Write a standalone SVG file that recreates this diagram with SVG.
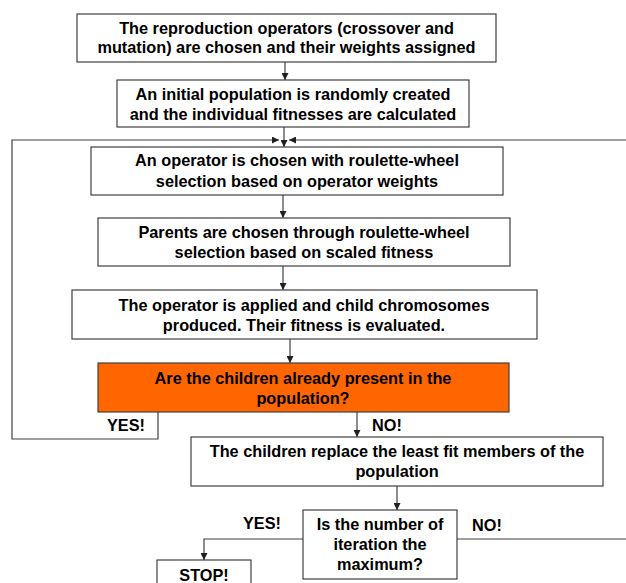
<svg xmlns="http://www.w3.org/2000/svg" width="626" height="583" viewBox="0 0 626 583">
<style>
.box{fill:#fff;stroke:#404040;stroke-width:1.2}
.dec{fill:#FF6600;stroke:#404040;stroke-width:1.2}
.t{font-family:"Liberation Sans",Arial,sans-serif;font-weight:bold;font-size:16.3px;fill:#000;text-anchor:middle}
.c{fill:none;stroke:#404040;stroke-width:1.2}
</style>
<defs>
<marker id="ah" viewBox="0 0 8 8" refX="8" refY="4" markerWidth="7" markerHeight="7" markerUnits="userSpaceOnUse" orient="auto">
<path d="M0,0 L8,4 L0,8 Z" fill="#202020"/>
</marker>
</defs>
<rect width="626" height="583" fill="#fff"/>
<g id="connectors">
<line class="c" x1="285" y1="62" x2="285" y2="80" marker-end="url(#ah)"/>
<line class="c" x1="284" y1="127" x2="284" y2="147" marker-end="url(#ah)"/>
<polyline class="c" points="158,412 158,439 12,439 12,140 279,140" marker-end="url(#ah)"/>
<line class="c" x1="626" y1="140" x2="289" y2="140" marker-end="url(#ah)"/>
<line class="c" x1="283" y1="195" x2="283" y2="218" marker-end="url(#ah)"/>
<line class="c" x1="283" y1="266" x2="283" y2="290" marker-end="url(#ah)"/>
<line class="c" x1="290" y1="339" x2="290" y2="363" marker-end="url(#ah)"/>
<line class="c" x1="357" y1="412" x2="357" y2="437" marker-end="url(#ah)"/>
<line class="c" x1="397" y1="486" x2="397" y2="510" marker-end="url(#ah)"/>
<polyline class="c" points="303,539 204,539 204,560" marker-end="url(#ah)"/>
<line class="c" x1="457" y1="539" x2="626" y2="539"/>
<text class="t" x="126" y="431">YES!</text>
<text class="t" x="387" y="431">NO!</text>
<text class="t" x="262" y="529">YES!</text>
<text class="t" x="487" y="531">NO!</text>
</g>
<g id="n1">
<rect class="box" x="77" y="14" width="419" height="48"/>
<text class="t" x="286.5" y="34">The reproduction operators (crossover and</text>
<text class="t" x="286.5" y="53">mutation) are chosen and their weights assigned</text>
</g>
<g id="n2">
<rect class="box" x="117" y="80" width="352" height="47"/>
<text class="t" x="293" y="100">An initial population is randomly created</text>
<text class="t" x="293" y="120">and the individual fitnesses are calculated</text>
</g>
<g id="n3">
<rect class="box" x="91" y="147" width="412" height="48"/>
<text class="t" x="297" y="166">An operator is chosen with roulette-wheel</text>
<text class="t" x="297" y="187">selection based on operator weights</text>
</g>
<g id="n4">
<rect class="box" x="98" y="218" width="412" height="48"/>
<text class="t" x="304" y="238">Parents are chosen through roulette-wheel</text>
<text class="t" x="304" y="258">selection based on scaled fitness</text>
</g>
<g id="n5">
<rect class="box" x="72" y="290" width="465" height="49"/>
<text class="t" x="304" y="311">The operator is applied and child chromosomes</text>
<text class="t" x="304" y="331">produced. Their fitness is evaluated.</text>
</g>
<g id="n6">
<rect class="dec" x="98" y="363" width="411" height="49"/>
<text class="t" x="303" y="384">Are the children already present in the</text>
<text class="t" x="303" y="404">population?</text>
</g>
<g id="n7">
<rect class="box" x="191" y="437" width="412" height="49"/>
<text class="t" x="397" y="457">The children replace the least fit members of the</text>
<text class="t" x="397" y="477">population</text>
</g>
<g id="n8">
<rect class="box" x="303" y="510" width="154" height="69"/>
<text class="t" x="380" y="530">Is the number of</text>
<text class="t" x="380" y="550">iteration the</text>
<text class="t" x="380" y="570">maximum?</text>
</g>
<g id="n9">
<rect class="box" x="157" y="560" width="94" height="30"/>
<text class="t" x="204" y="581">STOP!</text>
</g>
</svg>
